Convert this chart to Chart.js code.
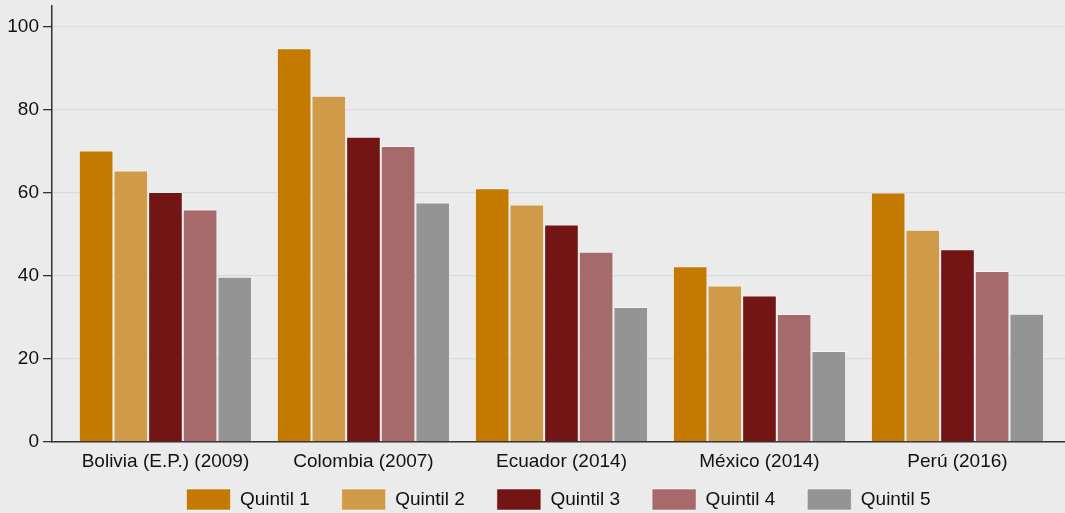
<!DOCTYPE html>
<html>
<head>
<meta charset="utf-8">
<script src="https://cdn.jsdelivr.net/npm/chart.js@4/dist/chart.umd.min.js"></script>
<style>
  html, body { margin: 0; padding: 0; background: #ebebeb; }
  #caja { width: 1065px; height: 513px; position: relative; }
</style>
</head>
<body>
<div id="caja"><canvas id="grafico-quintiles"></canvas></div>
<script>
const paises = ['Bolivia (E.P.) (2009)', 'Colombia (2007)', 'Ecuador (2014)', 'México (2014)', 'Perú (2016)'];
const quintiles = ['Quintil 1', 'Quintil 2', 'Quintil 3', 'Quintil 4', 'Quintil 5'];
const quintil1 = [70.2, 94.8, 61.1, 42.3, 60.1];
const quintil2 = [65.4, 83.4, 57.2, 37.7, 51.1];
const quintil3 = [60.2, 73.5, 52.4, 35.3, 46.4];
const quintil4 = [56.0, 71.3, 45.8, 30.8, 41.2];
const quintil5 = [39.8, 57.7, 32.5, 21.9, 30.9];
const ticksY = [0, 20, 40, 60, 80, 100];

(function(){
  const colores = ['#c47a00', '#d09b48', '#731515', '#a66a6a', '#949494'];
  const series = [quintil1, quintil2, quintil3, quintil4, quintil5];
  const fuente = '"Liberation Sans", Arial, sans-serif';

  const datasets = series.map((valores, i) => ({
    label: quintiles[i],
    data: valores.map((v, j) => ({ x: j, y: v })),
    backgroundColor: colores[i],
    borderColor: 'rgba(255,255,255,0.5)',
    borderWidth: 1,
    categoryPercentage: 0.875,
    barPercentage: 1
  }));

  // la leyenda queda mas arriba que su caja (el espaciado horizontal grande empuja todo hacia abajo)
  const subirLeyenda = {
    id: 'subirLeyenda',
    afterLayout(chart) {
      chart.legend.top -= 20;
    }
  };

  new Chart(document.getElementById('grafico-quintiles'), {
    type: 'bar',
    data: { datasets },
    plugins: [subirLeyenda],
    options: {
      responsive: true,
      maintainAspectRatio: false,
      animation: false,
      layout: { padding: { top: 6, left: 0, right: 0, bottom: 0 } },
      scales: {
        x: {
          type: 'linear',
          min: -0.573,
          max: 4.543,
          offset: false,
          afterFit: (s) => { s.height = 35; s.paddingLeft = 0; s.paddingRight = 0; },
          afterBuildTicks: (s) => { s.ticks = paises.map((p, i) => ({ value: i })); },
          grid: { display: false, drawTicks: false },
          border: { display: true, color: '#333', width: 1.5 },
          ticks: {
            autoSkip: false,
            maxRotation: 0,
            padding: 8,
            color: '#111',
            font: { family: fuente, size: 19 },
            callback: (v) => paises[v]
          }
        },
        y: {
          min: 0,
          max: 105,
          afterFit: (s) => { s.width = 52; s.paddingTop = 0; s.paddingBottom = 0; },
          afterBuildTicks: (s) => { s.ticks = ticksY.map(v => ({ value: v })); },
          grid: { color: '#d5dce1', lineWidth: 1.3, tickColor: '#333', tickLength: 9 },
          border: { color: '#333', width: 1.5 },
          ticks: {
            padding: 4,
            color: '#111',
            font: { family: fuente, size: 19 }
          }
        }
      },
      plugins: {
        tooltip: { enabled: false },
        legend: {
          position: 'bottom',
          fullSize: false,
          maxHeight: 36,
          labels: {
            boxWidth: 44,
            boxHeight: 21,
            padding: 32,
            color: '#111',
            font: { family: fuente, size: 19 }
          }
        }
      }
    }
  });
})();
</script>
</body>
</html>
